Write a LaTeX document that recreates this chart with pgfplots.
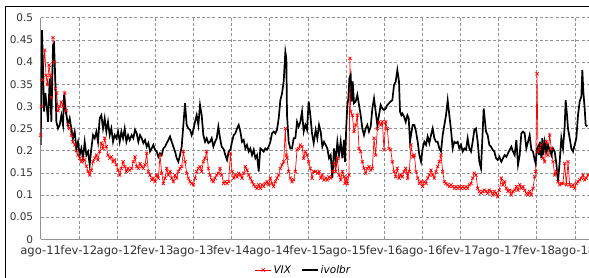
\documentclass[border=0pt]{standalone}
\usepackage{fontspec}
\setmainfont{DejaVu Sans}
\usepackage{pgfplots}
\pgfplotsset{compat=1.18}
\begin{document}
\begin{tikzpicture}[x=1pt,y=1pt]
\useasboundingbox (0,0) rectangle (589,278);
\clip (0,0) rectangle (589,278);
\draw[line width=1.2pt] (5.3,-5) -- (5.3,271.3) -- (600,271.3);
\begin{axis}[
  at={(40.7pt,38.7pt)}, anchor=south west,
  scale only axis, width=553.3pt, height=221.6pt,
  xmin=0, xmax=1660, ymin=0, ymax=0.5,
  xtick={0,114.48,228.96,343.44,457.92,572.4,686.88,801.36,915.84,1030.32,1144.8,1259.28,1373.76,1488.24,1602.72},
  xticklabels={ago-11,fev-12,ago-12,fev-13,ago-13,fev-14,ago-14,fev-15,ago-15,fev-16,ago-16,fev-17,ago-17,fev-18,ago-18},
  ytick={0,0.05,0.1,0.15,0.2,0.25,0.3,0.35,0.4,0.45,0.5},
  yticklabels={0,0.05,0.1,0.15,0.2,0.25,0.3,0.35,0.4,0.45,0.5},
  grid=major,
  major grid style={gray!85, line width=0.6pt, dash pattern=on 3pt off 2.2pt},
  axis x line*=bottom, axis y line*=left,
  axis line style={gray!85, line width=0.8pt, -},
  tick style={draw=none},
  tick label style={font=\fontsize{10.5}{12}\selectfont, text=black!80},
  yticklabel style={xshift=-4pt},
  xticklabel style={font=\fontsize{11.6}{13}\selectfont, yshift=-3pt, inner xsep=0pt},
  legend style={at={(0.475,-0.1385)}, anchor=center, draw=none, fill=none,
    legend columns=2, font=\fontsize{10.5}{12}\selectfont\itshape,
    /tikz/every even column/.append style={column sep=8pt}},
  legend image code/.code={\draw[#1] (0pt,0pt) -- (8pt,0pt) plot coordinates {(8pt,0pt)} -- (16pt,0pt);},
  clip=true,
]
\addplot[red, line width=0.7pt, mark=x, mark size=2.2pt, mark options={line width=0.7pt}] coordinates {
(0,0.235)(2,0.300)(6,0.360)(12,0.427)(16,0.370)(20,0.350)(25,0.393)(29,0.370)(32,0.320)(37,0.455)(40,0.400)(44,0.340)(48,0.330)(52,0.290)(57,0.300)(62,0.310)(67,0.300)(72,0.330)(77,0.290)(82,0.260)(87,0.250)(92,0.235)(97,0.220)(102,0.213)(107,0.200)(112,0.190)(117,0.183)(122,0.175)(127,0.183)(132,0.179)(137,0.165)(142,0.153)(147,0.145)(152,0.156)(157,0.175)(162,0.183)(167,0.190)(172,0.179)(177,0.198)(182,0.217)(187,0.205)(192,0.228)(197,0.209)(202,0.190)(207,0.183)(212,0.186)(217,0.175)(222,0.179)(227,0.168)(232,0.156)(237,0.145)(242,0.160)(247,0.175)(252,0.164)(257,0.153)(262,0.160)(267,0.156)
(273,0.160)(278,0.175)(283,0.186)(288,0.164)(293,0.160)(298,0.171)(303,0.164)(308,0.160)(313,0.168)(318,0.194)(323,0.153)(328,0.145)(333,0.134)(338,0.138)(343,0.130)(348,0.145)(353,0.138)(358,0.190)(363,0.149)(368,0.126)(373,0.138)(378,0.160)(383,0.145)(388,0.153)(393,0.138)(398,0.130)(403,0.145)(408,0.138)(413,0.153)(418,0.160)(423,0.164)(428,0.198)(433,0.175)(438,0.149)(443,0.138)(448,0.130)(453,0.126)(458,0.123)(463,0.138)(468,0.153)(473,0.160)(478,0.164)(483,0.153)(488,0.175)(493,0.183)(498,0.198)(503,0.160)(508,0.145)(513,0.134)(518,0.130)(523,0.138)(528,0.145)(533,0.149)(538,0.160)(543,0.145)
(549,0.126)(554,0.130)(559,0.126)(564,0.130)(569,0.194)(574,0.153)(579,0.138)(584,0.145)(589,0.141)(594,0.149)(599,0.145)(604,0.138)(609,0.149)(614,0.164)(619,0.156)(624,0.145)(629,0.138)(634,0.130)(639,0.123)(644,0.119)(649,0.115)(654,0.123)(659,0.115)(664,0.123)(669,0.119)(674,0.126)(679,0.130)(684,0.123)(689,0.138)(694,0.126)(699,0.119)(704,0.130)(709,0.138)(714,0.145)(719,0.160)(724,0.168)(729,0.175)(734,0.250)(737,0.190)(739,0.183)(744,0.153)(749,0.138)(754,0.130)(759,0.134)(764,0.153)(769,0.202)(774,0.205)(779,0.213)(784,0.209)(789,0.183)(794,0.198)(799,0.190)(804,0.175)(809,0.160)(814,0.138)(819,0.153)
(825,0.153)(830,0.149)(835,0.153)(840,0.138)(845,0.145)(850,0.134)(855,0.138)(860,0.134)(865,0.141)(870,0.138)(875,0.153)(880,0.171)(885,0.153)(890,0.183)(895,0.145)(900,0.134)(905,0.153)(910,0.141)(913,0.126)(917,0.138)(920,0.126)(925,0.145)(928,0.408)(930,0.288)(935,0.280)(940,0.243)(945,0.258)(950,0.280)(955,0.205)(960,0.198)(965,0.175)(970,0.160)(975,0.149)(980,0.160)(985,0.164)(990,0.156)(995,0.160)(1000,0.228)(1005,0.190)(1010,0.250)(1015,0.265)(1020,0.258)(1025,0.265)(1030,0.202)(1035,0.265)(1040,0.250)(1045,0.205)(1050,0.202)(1055,0.175)(1060,0.153)(1065,0.141)(1070,0.160)(1075,0.138)(1080,0.145)(1085,0.141)(1090,0.153)(1095,0.160)(1100,0.149)
(1101,0.138)(1106,0.153)(1111,0.213)(1116,0.186)(1121,0.190)(1126,0.153)(1131,0.138)(1136,0.126)(1141,0.130)(1146,0.119)(1151,0.130)(1156,0.126)(1161,0.138)(1166,0.145)(1171,0.156)(1176,0.145)(1181,0.138)(1186,0.153)(1191,0.164)(1196,0.175)(1201,0.190)(1206,0.153)(1211,0.130)(1216,0.126)(1221,0.123)(1226,0.119)(1231,0.123)(1236,0.119)(1241,0.115)(1246,0.119)(1251,0.115)(1256,0.119)(1261,0.115)(1266,0.119)(1271,0.115)(1276,0.119)(1281,0.115)(1286,0.123)(1291,0.126)(1296,0.138)(1301,0.149)(1306,0.145)(1311,0.115)(1316,0.108)(1321,0.104)(1326,0.108)(1331,0.111)(1336,0.108)(1341,0.104)(1346,0.111)(1351,0.108)(1356,0.100)(1361,0.108)(1366,0.104)(1371,0.096)(1376,0.111)
(1382,0.138)(1387,0.123)(1392,0.130)(1397,0.115)(1402,0.108)(1407,0.111)(1412,0.100)(1417,0.108)(1422,0.111)(1427,0.119)(1432,0.111)(1437,0.123)(1442,0.115)(1447,0.119)(1452,0.111)(1457,0.104)(1462,0.100)(1467,0.108)(1472,0.100)(1477,0.115)(1482,0.141)(1485,0.153)(1489,0.374)(1492,0.198)(1497,0.205)(1502,0.213)(1507,0.183)(1512,0.175)(1517,0.220)(1522,0.190)(1527,0.235)(1532,0.205)(1537,0.175)(1542,0.145)(1547,0.153)(1552,0.130)(1557,0.123)(1562,0.126)(1567,0.126)(1572,0.171)(1577,0.123)(1582,0.175)(1587,0.123)(1592,0.119)(1597,0.123)(1602,0.115)(1607,0.126)(1612,0.130)(1617,0.134)(1622,0.138)(1627,0.145)(1632,0.134)(1637,0.138)(1642,0.145)
};
\addlegendentry{VIX}
\addplot[black, line width=1.7pt, mark=none] coordinates {
(0,0.213)(4,0.472)(10,0.288)(14,0.330)(18,0.300)(22,0.265)(27,0.363)(32,0.265)(37,0.438)(40,0.442)(44,0.356)(47,0.265)(52,0.250)(57,0.258)(62,0.280)(67,0.258)(70,0.326)(74,0.295)(77,0.280)(82,0.258)(87,0.273)(92,0.250)(97,0.228)(102,0.243)(107,0.205)(112,0.220)(117,0.190)(122,0.205)(127,0.183)(132,0.220)(137,0.190)(142,0.198)(147,0.168)(152,0.205)(157,0.235)(162,0.228)(167,0.243)(172,0.220)(177,0.273)(182,0.280)(187,0.250)(192,0.273)(197,0.243)(202,0.265)(207,0.235)(212,0.250)(217,0.220)(222,0.235)(227,0.228)(232,0.243)(237,0.220)(242,0.243)(247,0.228)(252,0.250)(257,0.220)(262,0.235)(267,0.224)
(273,0.235)(278,0.228)(283,0.247)(288,0.239)(293,0.220)(298,0.235)(303,0.228)(308,0.217)(313,0.224)(318,0.209)(323,0.217)(328,0.198)(333,0.205)(338,0.213)(343,0.202)(348,0.198)(353,0.186)(358,0.194)(363,0.190)(368,0.205)(373,0.209)(378,0.217)(383,0.224)(388,0.232)(393,0.220)(398,0.209)(403,0.198)(408,0.183)(413,0.175)(418,0.190)(423,0.209)(428,0.258)(433,0.307)(438,0.258)(443,0.250)(448,0.247)(453,0.235)(458,0.247)(463,0.265)(468,0.280)(473,0.258)(478,0.303)(483,0.280)(488,0.235)(493,0.220)(498,0.228)(503,0.217)(508,0.220)(513,0.228)(518,0.209)(523,0.220)(528,0.228)(533,0.254)(538,0.228)(543,0.209)
(549,0.203)(554,0.190)(559,0.179)(564,0.198)(569,0.202)(574,0.220)(579,0.235)(584,0.239)(589,0.250)(594,0.258)(599,0.243)(604,0.220)(609,0.224)(614,0.205)(619,0.213)(624,0.198)(629,0.205)(634,0.190)(639,0.202)(644,0.183)(649,0.190)(654,0.153)(659,0.205)(664,0.202)(669,0.198)(674,0.205)(679,0.202)(684,0.209)(689,0.220)(694,0.239)(699,0.243)(704,0.239)(709,0.247)(714,0.273)(719,0.314)(724,0.329)(729,0.356)(734,0.423)(737,0.408)(739,0.280)(744,0.220)(749,0.205)(754,0.205)(759,0.228)(764,0.228)(769,0.265)(774,0.254)(779,0.265)(784,0.288)(789,0.243)(794,0.258)(799,0.247)(804,0.311)(809,0.280)(814,0.239)(819,0.217)
(825,0.247)(830,0.228)(835,0.258)(840,0.243)(845,0.209)(850,0.220)(855,0.213)(860,0.205)(865,0.183)(870,0.190)(875,0.138)(880,0.205)(885,0.175)(890,0.220)(895,0.190)(900,0.220)(905,0.183)(910,0.224)(913,0.175)(917,0.258)(920,0.303)(923,0.318)(926,0.363)(930,0.371)(933,0.311)(936,0.356)(940,0.307)(945,0.311)(950,0.326)(955,0.303)(960,0.280)(965,0.250)(970,0.235)(975,0.250)(980,0.258)(985,0.243)(990,0.254)(995,0.295)(1000,0.318)(1005,0.288)(1010,0.258)(1015,0.280)(1020,0.303)(1025,0.295)(1030,0.292)(1035,0.295)(1040,0.303)(1045,0.307)(1050,0.311)(1055,0.314)(1060,0.348)(1065,0.356)(1070,0.382)(1075,0.356)(1078,0.288)(1082,0.280)(1085,0.284)(1090,0.277)(1095,0.265)(1100,0.280)
(1104,0.273)(1108,0.220)(1111,0.235)(1116,0.258)(1121,0.258)(1126,0.243)(1131,0.220)(1136,0.190)(1141,0.175)(1146,0.205)(1151,0.220)(1156,0.213)(1161,0.232)(1166,0.217)(1171,0.235)(1176,0.250)(1181,0.228)(1186,0.220)(1191,0.220)(1196,0.205)(1201,0.198)(1206,0.235)(1211,0.258)(1216,0.280)(1221,0.314)(1226,0.280)(1231,0.247)(1236,0.205)(1241,0.220)(1246,0.217)(1251,0.220)(1256,0.205)(1261,0.213)(1266,0.198)(1271,0.205)(1276,0.202)(1281,0.228)(1286,0.205)(1291,0.198)(1296,0.220)(1301,0.247)(1306,0.250)(1311,0.220)(1316,0.175)(1321,0.160)(1326,0.243)(1329,0.295)(1334,0.258)(1336,0.243)(1341,0.235)(1346,0.213)(1351,0.209)(1356,0.202)(1361,0.198)(1366,0.183)(1371,0.179)(1376,0.186)
(1382,0.175)(1387,0.183)(1392,0.190)(1397,0.186)(1402,0.194)(1407,0.202)(1412,0.209)(1417,0.198)(1422,0.190)(1427,0.224)(1432,0.168)(1437,0.190)(1442,0.239)(1447,0.243)(1452,0.239)(1457,0.205)(1462,0.220)(1467,0.235)(1472,0.202)(1477,0.198)(1482,0.179)(1485,0.171)(1489,0.205)(1492,0.209)(1495,0.190)(1498,0.220)(1502,0.183)(1505,0.228)(1508,0.190)(1512,0.220)(1517,0.198)(1522,0.213)(1527,0.202)(1532,0.190)(1537,0.205)(1542,0.198)(1547,0.171)(1552,0.130)(1557,0.175)(1562,0.228)(1567,0.205)(1572,0.254)(1575,0.314)(1579,0.280)(1582,0.250)(1587,0.228)(1592,0.205)(1597,0.198)(1602,0.213)(1607,0.228)(1612,0.280)(1617,0.311)(1622,0.322)(1625,0.382)(1628,0.333)(1632,0.295)(1635,0.258)(1640,0.255)
};
\addlegendentry{ivolbr}
\end{axis}
\end{tikzpicture}
\end{document}
